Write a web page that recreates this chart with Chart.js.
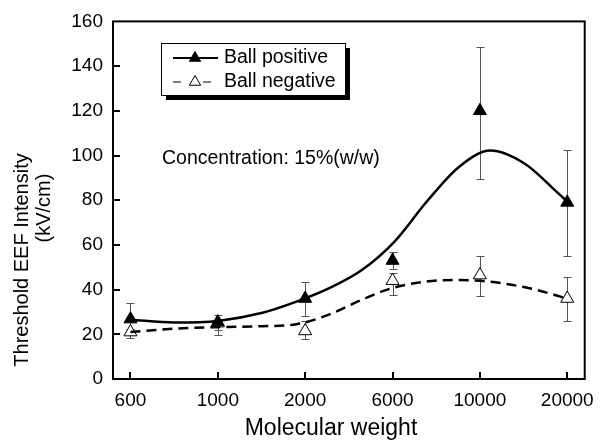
<!DOCTYPE html>
<html>
<head>
<meta charset="utf-8">
<script src="https://cdn.jsdelivr.net/npm/chart.js@4.4.1/dist/chart.umd.min.js"></script>
<style>
html, body { margin: 0; padding: 0; background: #fff; }
</style>
</head>
<body>
<canvas id="chart" width="604" height="441"></canvas>
<script>
// molecular weight categories (equally spaced on the x axis)
const weights = ["600", "1000", "2000", "6000", "10000", "20000"];

// measured points with error bars
const posValues = [26.8, 25.5, 36, 53, 120, 79];
const posLow = [20, 22, 28, 49, 89.7, 55.2];
const posHigh = [34, 28.5, 43.5, 57, 148.4, 102.3];
const negValues = [21, 25, 21.5, 44, 46.5, 36];
const negLow = [18.5, 19.5, 18, 37.5, 37, 26];
const negHigh = [22.5, 26, 26, 47.5, 55, 45.5];

// fitted trend curves at category positions
const posFitX = [0, 0.5, 1, 1.5, 1.9, 2.27, 2.64, 3.02, 3.39, 3.76, 4.12, 4.51, 4.88, 5];
const posFit = [26.5, 25.3, 26, 29.5, 34.6, 40.5, 48.5, 61.4, 79.3, 94.9, 102.2, 96.4, 83.7, 79.3];
const negFitX = [0, 0.5, 1, 1.5, 1.9, 2.27, 2.64, 2.98, 3.39, 3.76, 4.12, 4.58, 5];
const negFit = [21, 22.5, 23.2, 23.6, 24.5, 28.8, 35.3, 40.5, 43.6, 44.3, 43.5, 40.5, 36];

const yTicks = [0, 20, 40, 60, 80, 100, 120, 140, 160];

const FONT = "'Liberation Sans', Arial, sans-serif";

function xy(xs, ys) {
    return ys.map((v, i) => ({ x: xs[i], y: v }));
}

function triangle(ctx, x, y, r, fill) {
    ctx.beginPath();
    for (let k = 0; k < 3; k++) {
        const a = k * 2 * Math.PI / 3;
        const px = x + Math.sin(a) * r;
        const py = y - Math.cos(a) * r;
        if (k === 0) ctx.moveTo(px, py); else ctx.lineTo(px, py);
    }
    ctx.closePath();
    ctx.fillStyle = fill;
    ctx.fill();
    ctx.lineWidth = 1;
    ctx.strokeStyle = "#000";
    ctx.stroke();
}

const decor = {
    id: "decor",
    beforeDatasetsDraw(chart) {
        const { ctx, scales: { x, y } } = chart;
        ctx.save();
        ctx.strokeStyle = "#555";
        ctx.lineWidth = 1;
        [[posLow, posHigh], [negLow, negHigh]].forEach(([lo, hi]) => {
            lo.forEach((l, i) => {
                const px = Math.round(x.getPixelForValue(i)) + 0.5;
                const y1 = Math.round(y.getPixelForValue(l)) + 0.5;
                const y2 = Math.round(y.getPixelForValue(hi[i])) + 0.5;
                ctx.beginPath();
                ctx.moveTo(px, y1); ctx.lineTo(px, y2);
                ctx.moveTo(px - 4, y1); ctx.lineTo(px + 4, y1);
                ctx.moveTo(px - 4, y2); ctx.lineTo(px + 4, y2);
                ctx.stroke();
            });
        });
        ctx.restore();
    },
    afterDraw(chart) {
        const { ctx, chartArea: a, scales: { x, y } } = chart;
        ctx.save();

        // frame
        ctx.strokeStyle = "#000";
        ctx.lineWidth = 2;
        ctx.strokeRect(a.left, a.top, a.right - a.left, a.bottom - a.top);

        // inward tick marks
        ctx.beginPath();
        weights.forEach((w, i) => {
            const px = Math.round(x.getPixelForValue(i));
            ctx.moveTo(px, a.bottom); ctx.lineTo(px, a.bottom - 7);
        });
        yTicks.slice(1, -1).forEach(v => {
            const py = Math.round(y.getPixelForValue(v));
            ctx.moveTo(a.left, py); ctx.lineTo(a.left + 7, py);
        });
        ctx.stroke();

        // legend box with drop shadow
        ctx.fillStyle = "#000";
        ctx.fillRect(166, 48, 184, 52);
        ctx.fillStyle = "#fff";
        ctx.fillRect(161, 43, 184, 52);
        ctx.lineWidth = 1;
        ctx.strokeRect(161.5, 43.5, 184, 52);

        ctx.lineWidth = 2;
        ctx.beginPath();
        ctx.moveTo(173, 58); ctx.lineTo(218, 58);
        ctx.stroke();
        triangle(ctx, 195, 58, 6.5, "#000");

        ctx.beginPath();
        ctx.moveTo(173, 82); ctx.lineTo(181, 82);
        ctx.moveTo(203, 82); ctx.lineTo(211, 82);
        ctx.stroke();
        triangle(ctx, 195, 82, 6.5, "#fff");

        ctx.fillStyle = "#000";
        ctx.font = "19.5px " + FONT;
        ctx.textAlign = "left";
        ctx.textBaseline = "middle";
        ctx.fillText("Ball positive", 224, 58);
        ctx.fillText("Ball negative", 224, 82);

        // annotation
        ctx.fillText("Concentration: 15%(w/w)", 162, 159);

        // axis titles
        ctx.font = "23px " + FONT;
        ctx.textAlign = "center";
        ctx.textBaseline = "alphabetic";
        ctx.fillText("Molecular weight", 331, 435);

        ctx.font = "20px " + FONT;
        ctx.textBaseline = "middle";
        ctx.translate(22, 260);
        ctx.rotate(-Math.PI / 2);
        ctx.fillText("Threshold EEF Intensity", 0, 0);
        ctx.rotate(Math.PI / 2);
        ctx.translate(22, -52);
        ctx.rotate(-Math.PI / 2);
        ctx.fillText("(kV/cm)", 0, 0);

        ctx.restore();
    }
};

new Chart(document.getElementById("chart"), {
    type: "line",
    data: {
        datasets: [
            {
                label: "Ball positive fit",
                data: xy(posFitX, posFit),
                borderColor: "#000",
                borderWidth: 2.5,
                pointRadius: 0,
                cubicInterpolationMode: "monotone",
                fill: false
            },
            {
                label: "Ball negative fit",
                data: xy(negFitX, negFit),
                borderColor: "#000",
                borderWidth: 2.5,
                borderDash: [10, 6],
                pointRadius: 0,
                cubicInterpolationMode: "monotone",
                fill: false
            },
            {
                label: "Ball positive",
                data: xy([0, 1, 2, 3, 4, 5], posValues),
                showLine: false,
                pointStyle: "triangle",
                pointRadius: 7.5,
                pointBackgroundColor: "#000",
                pointBorderColor: "#000",
                pointBorderWidth: 1
            },
            {
                label: "Ball negative",
                data: xy([0, 1, 2, 3, 4, 5], negValues),
                showLine: false,
                pointStyle: "triangle",
                pointRadius: 7.5,
                pointBackgroundColor: "#fff",
                pointBorderColor: "#000",
                pointBorderWidth: 1
            }
        ]
    },
    options: {
        responsive: false,
        animation: false,
        devicePixelRatio: 1,
        layout: { padding: { left: 0, right: 9, top: 21, bottom: 0 } },
        plugins: { legend: { display: false }, tooltip: { enabled: false } },
        scales: {
            x: {
                type: "linear",
                min: -0.2,
                max: 5.2,
                afterFit: s => { s.height = 62; },
                afterBuildTicks: s => { s.ticks = weights.map((w, i) => ({ value: i })); },
                ticks: {
                    callback: v => weights[v],
                    color: "#000",
                    font: { family: FONT, size: 19 },
                    padding: 10,
                    maxRotation: 0,
                    autoSkip: false
                },
                grid: { display: false, drawTicks: false },
                border: { display: false }
            },
            y: {
                min: 0,
                max: 160,
                afterFit: s => { s.width = 113; },
                afterBuildTicks: s => { s.ticks = yTicks.map(v => ({ value: v })); },
                ticks: {
                    color: "#000",
                    font: { family: FONT, size: 19 },
                    padding: 10
                },
                grid: { display: false, drawTicks: false },
                border: { display: false }
            }
        }
    },
    plugins: [decor]
});
</script>
</body>
</html>
